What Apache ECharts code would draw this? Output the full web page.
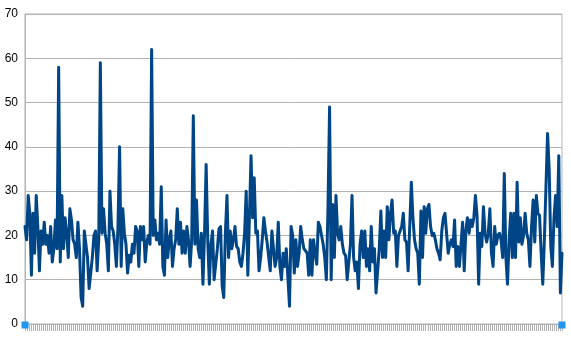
<!DOCTYPE html>
<html>
<head>
<meta charset="utf-8">
<script src="https://cdn.jsdelivr.net/npm/echarts@6/dist/echarts.min.js"></script>
<style>
html,body{margin:0;padding:0;background:#fff;}
#chart{width:571px;height:338px;}
</style>
</head>
<body>
<div id="chart"></div>
<script>
// Series values (left to right)
const valuesPart1 = [22,19,29,25,11,25,16,29,22,12,21,18,23,18,20,16,22,14,17,23.5,17,58,14,29,17,24,20.5,15,26,23.5,19,18,15,23,17,6,4,21,18,15,8,11.5,15,20,21,12,19,59,20.5,26,20.5,18,12,30,22,21,18,13,22,40,13,26,20.5,18,11.5,15.5,14,18,16,22,21,13,22,19,22,14,18.5,20,18,62,20,23.5,19,20.5,18,31,13,11,23.5,15,19,21,13,17,19,26,18,23,16,21,16,22,19,13,19,47];
const valuesPart2 = [18,28,17,15,20.5,9,20.5,36,19,9,18,21,10,10,17,21.5,22,8.5,6,20.5,29,15,21,17,19,22,17.5,17,14,13,16,20.5,30,11,24,38,24,33,20.5,21,12,15,19,24,21,18.5,18.5,12,21,21,13,15,23,13,10,16,13,17,17,4,22,20,11.5,19,13,16,22,19,17,17,16,11,19,11,19,16,13.5,23,22,20,18,15,10,26,49,10,27,15,29,20.5,19,22,18,16,15.5,10,10,18,29,15,12,14,8,18];
const valuesPart3 = [21,15,21,13,17,12,22,14,17,7,7,17,25.5,15,21,15,26.5,19,25,28,20.5,21,13,20,21,22,25,19,18.5,12,22,32,24,19,17,16,9,25.5,15,26.5,20.5,26,27,22,20,20.5,19,17,16,14.5,21,24,25,25,16,18,19,17.5,23.5,13,17.5,13,18,23,12,21,24,20.5,23.5,22,24,29,24.5,9,20.5,17.5,26.5,20.5,18.5,20.5,26,16,13,22,18,20,20.5,19,15,34,15,9,19,25,15,25,15,32,18.5,24,18,20,25,20.5,19,13,22,28,18.5,29,25,24.5,16,9,19,31,43,35,17.5,13,24,29,22,38,7,16];
const values = valuesPart1.concat(valuesPart2, valuesPart3);
const categories = values.map((v, i) => String(i + 1));
const yTicks = {min: 0, max: 70, interval: 10};
const xTickCount = 268; // category tick marks along the bottom axis

const chart = echarts.init(document.getElementById('chart'), null, {renderer: 'canvas'});
chart.setOption({
  animation: false,
  backgroundColor: '#ffffff',
  grid: {left: 25, right: 9, top: 14, bottom: 14, show: true, borderColor: '#b3b3b3', borderWidth: 1, backgroundColor: 'transparent'},
  xAxis: [{
    type: 'category',
    data: categories,
    boundaryGap: false,
    axisLine: {lineStyle: {color: '#b3b3b3', width: 1}},
    axisTick: {show: false},
    axisLabel: {show: false},
    splitLine: {show: false}
  }, {
    type: 'value',
    position: 'bottom',
    min: 0, max: xTickCount, interval: 1,
    axisLine: {show: false},
    axisTick: {show: true, length: 7, lineStyle: {color: '#b0b0b0', width: 1}},
    axisLabel: {show: false},
    splitLine: {show: false}
  }],
  yAxis: {
    type: 'value',
    min: yTicks.min, max: yTicks.max, interval: yTicks.interval,
    axisLine: {show: true, lineStyle: {color: '#b3b3b3', width: 1}},
    axisTick: {show: false},
    axisLabel: {color: '#000000', fontFamily: 'Liberation Sans', fontSize: 12, margin: 7},
    splitLine: {show: true, lineStyle: {color: '#b3b3b3', width: 1}}
  },
  series: [{
    type: 'line',
    xAxisIndex: 0,
    data: values,
    showSymbol: false,
    symbol: 'none',
    lineStyle: {color: '#004586', width: 3, join: 'round', cap: 'round'},
    itemStyle: {color: '#004586'}
  }]
});

// selection handles at axis ends (decoration)
const p0 = chart.convertToPixel({xAxisIndex: 0, yAxisIndex: 0}, [0, 0]);
const p1 = chart.convertToPixel({xAxisIndex: 0, yAxisIndex: 0}, [values.length - 1, 0]);
chart.setOption({
  graphic: [
    {type: 'rect', shape: {x: p0[0] - 3.5, y: p0[1] - 2.5, width: 7, height: 7}, style: {fill: '#1f97f0'}, z: 100},
    {type: 'rect', shape: {x: p1[0] - 3.5, y: p1[1] - 2.5, width: 7, height: 7}, style: {fill: '#1f97f0'}, z: 100}
  ]
});
</script>
</body>
</html>
